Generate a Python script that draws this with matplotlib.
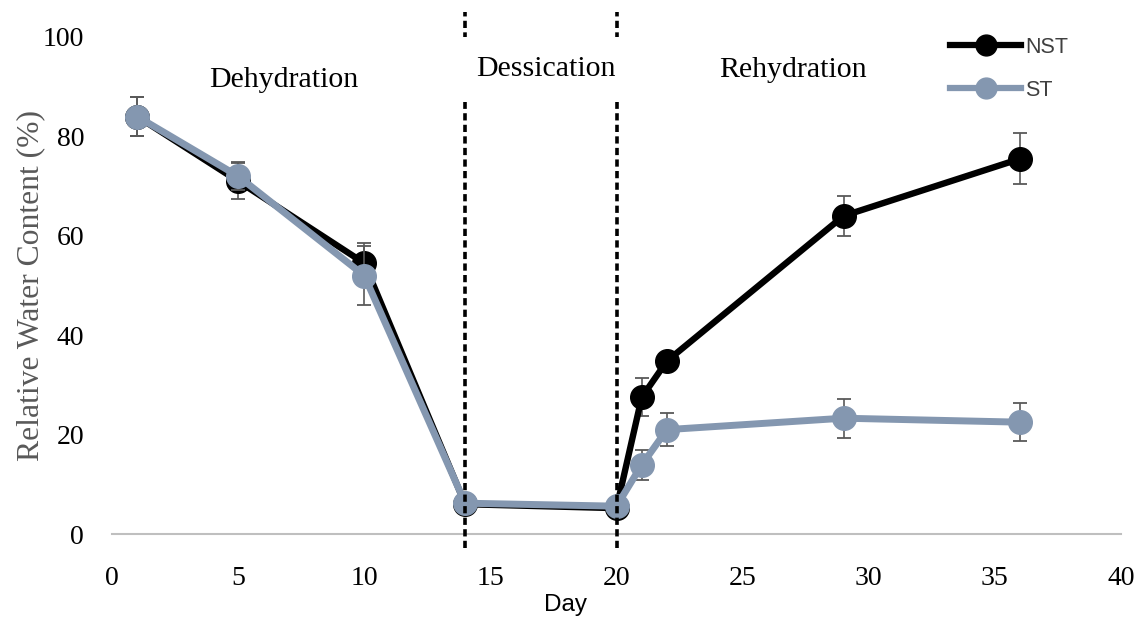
import matplotlib
matplotlib.use("Agg")
import matplotlib.pyplot as plt
from matplotlib.lines import Line2D

# ---- data ----
days = [1, 5, 10, 14, 20, 21, 22, 29, 36]
nst = [84.0, 71.0, 54.5, 6.0, 5.2, 27.5, 34.8, 64.0, 75.5]
nst_err = [4.0, 3.6, 4.0, 0.5, 0.5, 3.8, 1.5, 4.1, 5.1]
st = [84.0, 72.0, 52.0, 6.2, 5.6, 13.9, 21.0, 23.3, 22.5]
st_err = [4.0, 2.8, 6.0, 0.5, 0.5, 3.0, 3.3, 3.9, 3.8]
phase_bounds = [14, 20]
phase_labels = ["Dehydration", "Dessication", "Rehydration"]
phase_label_days = [6.8, 17.2, 27.0]
xticks = [0, 5, 10, 15, 20, 25, 30, 35, 40]
yticks = [0, 20, 40, 60, 80, 100]

NST_C = "#000000"
ST_C = "#8497B0"
ERR_C = "#595959"
SERIF = "Liberation Serif"
SANS = "Liberation Sans"

fig = plt.figure(figsize=(11.43, 6.19), dpi=100)
ax = fig.add_axes([112 / 1143, 1 - 534 / 619, (1121 - 112) / 1143, (534 - 37) / 619])

# error bars + lines
ax.errorbar(days, nst, yerr=nst_err, fmt="none", ecolor=ERR_C, elinewidth=1.2,
            capsize=5, capthick=1.3, zorder=2)
ax.plot(days, nst, color=NST_C, lw=4.6, marker="o", ms=17, zorder=3,
        solid_joinstyle="round")
ax.errorbar(days, st, yerr=st_err, fmt="none", ecolor=ERR_C, elinewidth=1.2,
            capsize=5, capthick=1.3, zorder=4)
ax.plot(days, st, color=ST_C, lw=5.0, marker="o", ms=17, zorder=5,
        solid_joinstyle="round")

ax.set_xlim(0, 40)
ax.set_ylim(0, 100)
ax.set_xticks(xticks)
ax.set_yticks(yticks)
ax.tick_params(length=0)
ax.tick_params(axis="y", pad=20)
ax.tick_params(axis="x", pad=23)
for lab in ax.get_xticklabels() + ax.get_yticklabels():
    lab.set_fontfamily(SERIF)
    lab.set_fontsize(20)
    lab.set_color("black")

for s in ["top", "right", "left"]:
    ax.spines[s].set_visible(False)
ax.spines["bottom"].set_color("#BFBFBF")
ax.spines["bottom"].set_linewidth(1.5)

# phase boundaries (dashed), extending beyond axes
trans = ax.get_xaxis_transform()
for b in phase_bounds:
    ax.plot([b, b], [-0.028, 1.05], transform=trans, color="black", lw=2.6,
            dashes=(2.0, 1.2), clip_on=False, zorder=6)

# phase labels (the middle one has a white box hiding the dashed lines)
label_y = [0.913, 0.935, 0.934]
for d, t, yy in zip(phase_label_days, phase_labels, label_y):
    ax.text(d, yy, t, transform=trans, ha="center", va="center",
            fontfamily=SERIF, fontsize=21.5, color="black", zorder=7,
            bbox=dict(facecolor="white", edgecolor="none", pad=14) if t == "Dessication" else None)

ax.set_ylabel("Relative Water Content (%)", fontfamily=SERIF, fontsize=22.8,
              color="#595959")
ax.yaxis.set_label_coords(-0.066, 0.5)
fig.text(565 / 1143, 1 - 605 / 619, "Day", fontfamily=SANS, fontsize=17.5,
         ha="center", va="center", color="black")

handles = [Line2D([], [], color=NST_C, lw=4.5, marker="o", ms=15),
           Line2D([], [], color=ST_C, lw=4.5, marker="o", ms=15)]
leg = fig.legend(handles, ["NST", "ST"], loc="upper left",
                 bbox_to_anchor=(950 / 1143, 1 - 37 / 619), frameon=False,
                 prop={"family": SANS, "size": 15.5}, handlelength=3.3,
                 handletextpad=0.2, labelspacing=1.0, borderpad=0,
                 borderaxespad=0)
for t in leg.get_texts():
    t.set_color("#404040")

fig.savefig("out.png", dpi=100)
